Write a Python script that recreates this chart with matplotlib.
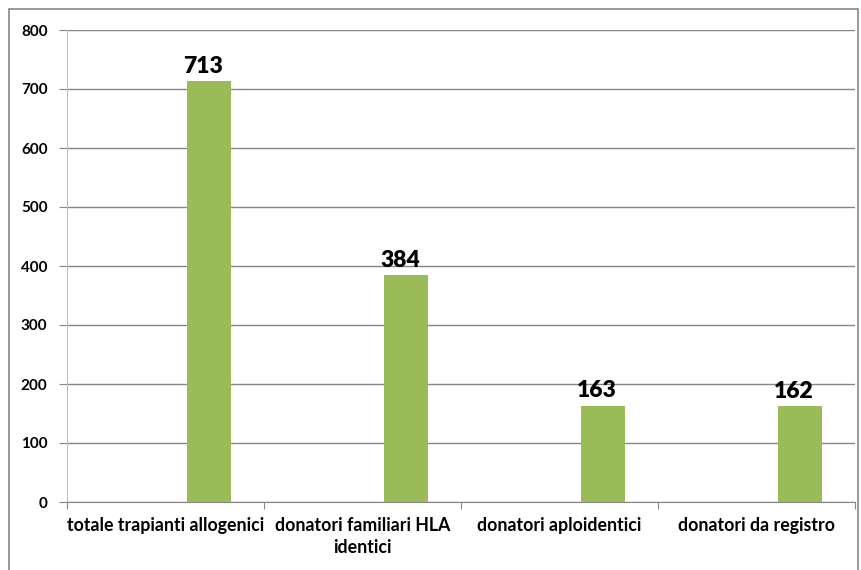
import matplotlib
matplotlib.use("Agg")
import matplotlib.pyplot as plt
from matplotlib.patches import Rectangle

categories = ["totale trapianti allogenici", "donatori familiari HLA\nidentici",
              "donatori aploidentici", "donatori da registro"]
values = [713, 384, 163, 162]
yticks = [0, 100, 200, 300, 400, 500, 600, 700, 800]

plt.rcParams['font.family'] = ['Lato', 'DejaVu Sans']

fig = plt.figure(figsize=(8.62, 5.70), dpi=100)
ax = fig.add_axes([67/862, 1-502/570, (855-67)/862, (502-30)/570])

x = list(range(len(categories)))
xpos = [i + 0.22 for i in x]
bars = ax.bar(xpos, values, width=0.224, color="#9BBB59", zorder=3)
for b, v in zip(bars, values):
    ax.text(b.get_x() + b.get_width()/2 - 0.03, v + 8, str(v), ha="center", va="bottom",
            fontsize=16.5, fontweight="heavy", color="black")

ax.set_xlim(-0.5, len(categories) - 0.5)
ax.set_ylim(0, 800)
ax.set_yticks(yticks)
ax.set_yticklabels([str(t) for t in yticks], fontsize=11, fontweight="bold")
ax.yaxis.grid(True, color="#868686", linewidth=1, zorder=0)
ax.set_axisbelow(True)

ax.set_xticks([i - 0.5 for i in range(len(categories) + 1)], minor=False)
ax.set_xticklabels([])
ax.set_xticks(x, minor=True)
ax.set_xticklabels(categories, minor=True, fontsize=12.8, fontweight="bold",
                   multialignment="center", linespacing=1.35)
ax.tick_params(axis="x", which="minor", length=0, pad=11)
ax.tick_params(axis="x", which="major", length=5, color="#868686")
ax.tick_params(axis="y", length=6, color="#868686", pad=8)

for s in ["top", "right"]:
    ax.spines[s].set_visible(False)
ax.spines["left"].set_color("#BFBFBF")
ax.spines["bottom"].set_color("#868686")

fig.patches.append(Rectangle((9/862, -0.01), (858-9)/862, 1 - 9/570 + 0.01,
                             transform=fig.transFigure, fill=False,
                             edgecolor="#868686", linewidth=1.2))

fig.savefig("out.png", dpi=100)
